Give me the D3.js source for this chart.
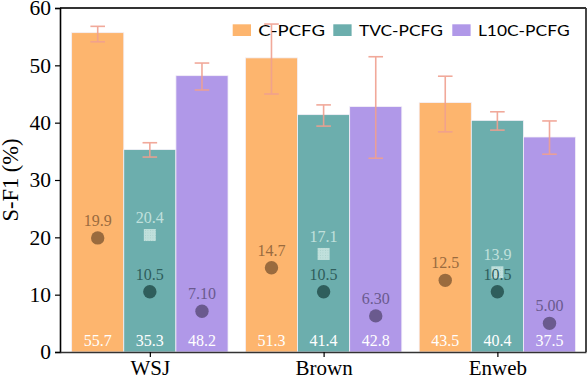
<!DOCTYPE html>
<html>
<head>
<style>
body { margin: 0; background: #fff; }
</style>
</head>
<body>
<script src="https://d3js.org/d3.v7.min.js"></script>
<script>
// datasets and models
var datasets = ["WSJ", "Brown", "Enweb"];
var models = ["C-PCFG", "TVC-PCFG", "L10C-PCFG"];
// S-F1 per model, one value per dataset
var sf1 = {
  "C-PCFG":    [55.7, 51.3, 43.5],
  "TVC-PCFG":  [35.3, 41.4, 40.4],
  "L10C-PCFG": [48.2, 42.8, 37.5]
};
// error bar ends (low, high)
var errLow = {
  "C-PCFG":    [54.1, 45.0, 38.4],
  "TVC-PCFG":  [34.0, 39.4, 38.7],
  "L10C-PCFG": [45.7, 33.8, 34.5]
};
var errHigh = {
  "C-PCFG":    [56.8, 57.2, 48.1],
  "TVC-PCFG":  [36.5, 43.1, 41.9],
  "L10C-PCFG": [50.4, 51.5, 40.3]
};
// circle markers
var dots = {
  "C-PCFG":    [19.9, 14.7, 12.5],
  "TVC-PCFG":  [10.5, 10.5, 10.5],
  "L10C-PCFG": [7.10, 6.30, 5.00]
};
var dotLabels = {
  "C-PCFG":    ["19.9", "14.7", "12.5"],
  "TVC-PCFG":  ["10.5", "10.5", "10.5"],
  "L10C-PCFG": ["7.10", "6.30", "5.00"]
};
// square markers (TVC only)
var squares = [20.4, 17.1, 13.9];
var yTicks = [0, 10, 20, 30, 40, 50, 60];

var barColor = { "C-PCFG": "#fdb56e", "TVC-PCFG": "#6caead", "L10C-PCFG": "#b098e8" };
var dotColor = { "C-PCFG": "#9a6b3e", "TVC-PCFG": "#2f5e5c", "L10C-PCFG": "#6a5a8e" };
var sqColor = "#c0e0dc";
var errColor = "#f0a090";

var W = 588, H = 378;
var mL = 60, mR = 586, mT = 8, mB = 352;
var barW = 0.3;

var svg = d3.select("body").append("svg")
  .attr("width", W).attr("height", H)
  .style("font-family", "'Liberation Serif', 'Times New Roman', serif");

// dotted fill for the squares
var pat = svg.append("defs").append("pattern")
  .attr("id", "dots").attr("width", 2.5).attr("height", 2.5)
  .attr("patternUnits", "userSpaceOnUse");
pat.append("rect").attr("width", 2.5).attr("height", 2.5).attr("fill", sqColor);
pat.append("rect").attr("width", 0.8).attr("height", 0.8).attr("fill", "#a6cfca");

var x = d3.scaleLinear().domain([-0.517, 2.51]).range([mL, mR]);
var y = d3.scaleLinear().domain([0, 60]).range([mB, mT]);

function bx(gi, mi) { return gi + (mi - 1) * barW; }

// bars
models.forEach(function(m, mi) {
  svg.append("g").selectAll("rect")
    .data(sf1[m]).enter().append("rect")
    .attr("x", function(d, i) { return x(bx(i, mi) - barW / 2); })
    .attr("y", function(d) { return y(d); })
    .attr("width", x(barW) - x(0))
    .attr("height", function(d) { return y(0) - y(d); })
    .attr("fill", barColor[m])
    .attr("stroke", "#f4f0f8")
    .attr("stroke-width", 0.8);
});

// error bars
var cap = 7.3;
models.forEach(function(m, mi) {
  var g = svg.append("g").attr("stroke", errColor).attr("stroke-width", 1.6).attr("opacity", 0.9);
  datasets.forEach(function(ds, i) {
    var cx = x(bx(i, mi));
    g.append("line").attr("x1", cx).attr("x2", cx)
      .attr("y1", y(errLow[m][i])).attr("y2", y(errHigh[m][i]));
    [errLow[m][i], errHigh[m][i]].forEach(function(v) {
      g.append("line").attr("x1", cx - cap).attr("x2", cx + cap)
        .attr("y1", y(v)).attr("y2", y(v));
    });
  });
});

// bar value labels at the bottom
models.forEach(function(m, mi) {
  svg.append("g").selectAll("text")
    .data(sf1[m]).enter().append("text")
    .attr("x", function(d, i) { return x(bx(i, mi)); })
    .attr("y", 345.5)
    .attr("text-anchor", "middle")
    .attr("fill", "#fff")
    .attr("font-size", 16)
    .text(function(d) { return d.toFixed(1); });
});

// square markers
svg.append("g").selectAll("rect")
  .data(squares).enter().append("rect")
  .attr("x", function(d, i) { return x(bx(i, 1)) - 6; })
  .attr("y", function(d) { return y(d) - 6; })
  .attr("width", 12).attr("height", 12)
  .attr("fill", "url(#dots)");
svg.append("g").selectAll("text")
  .data(squares).enter().append("text")
  .attr("x", function(d, i) { return x(bx(i, 1)); })
  .attr("y", function(d) { return y(d) - 12; })
  .attr("text-anchor", "middle")
  .attr("fill", sqColor)
  .attr("font-size", 16)
  .text(function(d) { return d.toFixed(1); });

// circle markers
models.forEach(function(m, mi) {
  svg.append("g").selectAll("circle")
    .data(dots[m]).enter().append("circle")
    .attr("cx", function(d, i) { return x(bx(i, mi)); })
    .attr("cy", function(d) { return y(d); })
    .attr("r", 6.7)
    .attr("fill", dotColor[m]);
  svg.append("g").selectAll("text")
    .data(dots[m]).enter().append("text")
    .attr("x", function(d, i) { return x(bx(i, mi)); })
    .attr("y", function(d) { return y(d) - 12; })
    .attr("text-anchor", "middle")
    .attr("fill", dotColor[m])
    .attr("font-size", 16)
    .text(function(d, i) { return dotLabels[m][i]; });
});

// frame: top and right
svg.append("line").attr("x1", mL).attr("x2", mR).attr("y1", mT).attr("y2", mT)
  .attr("stroke", "#333").attr("stroke-width", 1.8);
svg.append("line").attr("x1", mR).attr("x2", mR).attr("y1", mT).attr("y2", mB)
  .attr("stroke", "#333").attr("stroke-width", 1.8);

// axes
var yAxis = svg.append("g").attr("transform", "translate(" + mL + ",0)")
  .call(d3.axisLeft(y).tickValues(yTicks).tickSize(5).tickPadding(4));
yAxis.select(".domain").attr("stroke", "#000").attr("stroke-width", 1.6);
yAxis.selectAll("line").attr("stroke-width", 1.2);
yAxis.selectAll("text").attr("font-size", 21.5).attr("font-family", "'Liberation Serif', serif").attr("fill", "#000");

var xAxis = svg.append("g").attr("transform", "translate(0," + mB + ")")
  .call(d3.axisBottom(x).tickValues([0, 1, 2]).tickFormat(function(d) { return datasets[d]; })
    .tickSize(5).tickPadding(3).tickSizeOuter(0));
xAxis.select(".domain").attr("stroke", "#333").attr("stroke-width", 1.6);
xAxis.selectAll("line").attr("stroke-width", 1.2);
xAxis.selectAll("text").attr("font-size", 21).attr("font-family", "'Liberation Serif', serif").attr("fill", "#000");

svg.append("text")
  .attr("transform", "translate(18," + ((mT + mB) / 2) + ") rotate(-90)")
  .attr("text-anchor", "middle")
  .attr("font-size", 22.5)
  .text("S-F1 (%)");

// legend
var legX = [232.7, 333.3, 452.3];
var legLen = [66.7, 84, 91.7];
var leg = svg.append("g").style("font-family", "Lato, 'Noto Sans', sans-serif");
models.forEach(function(m, mi) {
  leg.append("rect").attr("x", legX[mi]).attr("y", 24.3).attr("width", 18.3).attr("height", 11.7)
    .attr("fill", barColor[m]);
  leg.append("text").attr("x", legX[mi] + 25.6).attr("y", 35.7)
    .attr("font-size", 15.5).attr("fill", "#000")
    .attr("textLength", legLen[mi]).attr("lengthAdjust", "spacingAndGlyphs")
    .text(m);
});
</script>
</body>
</html>
